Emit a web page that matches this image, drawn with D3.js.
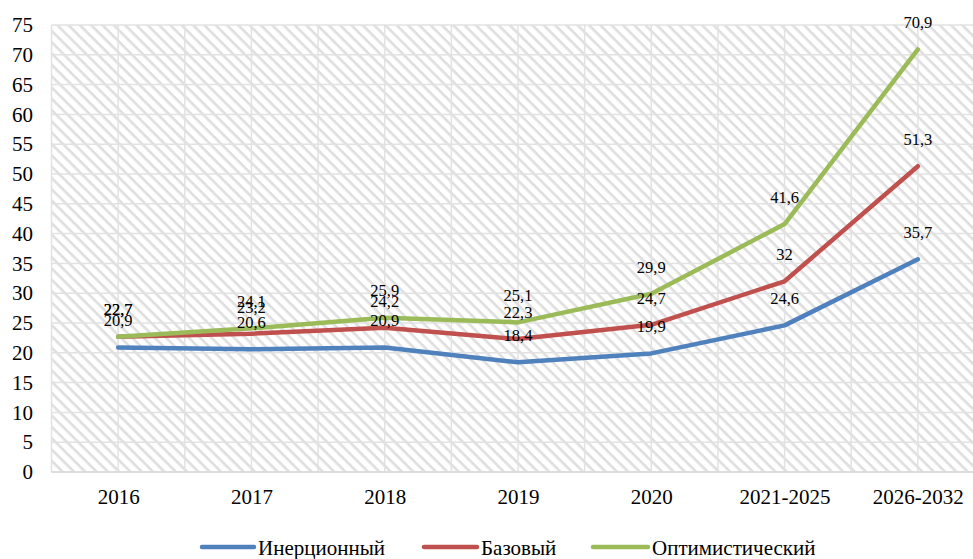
<!DOCTYPE html>
<html>
<head>
<meta charset="utf-8">
<script src="https://cdn.jsdelivr.net/npm/d3@7"></script>
<style>
  html, body { margin: 0; padding: 0; background: #fff; }
  svg text { font-family: "Liberation Serif", "Times New Roman", serif !important; }
</style>
</head>
<body>
<svg id="chart" width="973" height="559"></svg>
<script>
const categories = ["2016", "2017", "2018", "2019", "2020", "2021-2025", "2026-2032"];
const inertial = [20.9, 20.6, 20.9, 18.4, 19.9, 24.6, 35.7];
const base = [22.7, 23.2, 24.2, 22.3, 24.7, 32, 51.3];
const optimistic = [22.7, 24.1, 25.9, 25.1, 29.9, 41.6, 70.9];
const seriesNames = ["Инерционный", "Базовый", "Оптимистический"];
const yTicks = d3.range(0, 80, 5);

const colors = ["#4F81BD", "#C0504D", "#9BBB59"];
const series = [inertial, base, optimistic].map((v, i) => ({ name: seriesNames[i], values: v, color: colors[i] }));

const svg = d3.select("#chart");
const W = 973, H = 559;
const plot = { left: 51.5, right: 984.5, top: 25, bottom: 472 };

const x = d3.scaleBand().domain(categories).range([plot.left, plot.right]).padding(0);
const cx = c => x(c) + x.bandwidth() / 2;
const y = d3.scaleLinear().domain([0, 75]).range([plot.bottom, plot.top]);

// hatch pattern
const defs = svg.append("defs");
const pat = defs.append("pattern")
  .attr("id", "hatch").attr("patternUnits", "userSpaceOnUse")
  .attr("width", 8).attr("height", 8)
  .attr("patternTransform", "rotate(45)");
pat.append("rect").attr("width", 8).attr("height", 8).attr("fill", "#ffffff");
pat.append("rect").attr("x", 0).attr("y", 0).attr("width", 8).attr("height", 2.6).attr("fill", "#dedede");

defs.append("clipPath").attr("id", "clipAll")
  .append("rect").attr("x", 0).attr("y", 0).attr("width", W).attr("height", H);

const g = svg.append("g").attr("clip-path", "url(#clipAll)");

g.append("rect")
  .attr("x", plot.left).attr("y", plot.top)
  .attr("width", plot.right - plot.left).attr("height", plot.bottom - plot.top)
  .attr("fill", "url(#hatch)");

// horizontal gridlines
g.append("g").selectAll("line").data(yTicks).join("line")
  .attr("x1", plot.left).attr("x2", plot.right)
  .attr("y1", d => y(d)).attr("y2", d => y(d))
  .attr("stroke", "#e2e2e2").attr("stroke-width", 1.5);

// vertical gridlines: band boundaries and centers
const vlines = [];
categories.forEach(c => { vlines.push(x(c)); vlines.push(cx(c)); });
vlines.push(plot.right);
g.append("g").selectAll("line").data(vlines).join("line")
  .attr("x1", d => d).attr("x2", d => d)
  .attr("y1", plot.top).attr("y2", plot.bottom)
  .attr("stroke", "#e2e2e2").attr("stroke-width", 1.5);

// axis line at bottom
g.append("line")
  .attr("x1", plot.left).attr("x2", plot.right)
  .attr("y1", plot.bottom).attr("y2", plot.bottom)
  .attr("stroke", "#d9d9d9").attr("stroke-width", 1.5);

// y axis labels
const yAxis = d3.axisLeft(y).tickValues(yTicks).tickSize(0).tickPadding(0);
const ya = svg.append("g").attr("transform", "translate(33,0)").call(yAxis);
ya.select(".domain").remove();
ya.attr("font-size", null).attr("font-family", null);
ya.selectAll("text").attr("font-size", 21).attr("fill", "#000");

// x axis labels
const xAxis = d3.axisBottom(d3.scalePoint().domain(categories).range([cx(categories[0]), cx(categories[categories.length - 1])]))
  .tickSize(0).tickPadding(0);
const xa = svg.append("g").attr("transform", "translate(0,497)").call(xAxis);
xa.select(".domain").remove();
xa.attr("font-size", null).attr("font-family", null);
xa.selectAll("text").attr("font-size", 21).attr("fill", "#000").attr("y", 0).attr("dy", "0.35em");

// lines
const line = d3.line().x((d, i) => cx(categories[i])).y(d => y(d));
g.append("g").selectAll("path").data(series).join("path")
  .attr("d", s => line(s.values))
  .attr("fill", "none").attr("stroke", s => s.color)
  .attr("stroke-width", 4.5).attr("stroke-linejoin", "round").attr("stroke-linecap", "round");

// data labels
const fmt = v => String(v).replace(".", ",");
series.forEach(s => {
  svg.append("g").selectAll("text").data(s.values).join("text")
    .attr("x", (d, i) => cx(categories[i]))
    .attr("y", d => y(d) - 27)
    .attr("dy", "0.35em")
    .attr("text-anchor", "middle")
    .attr("font-size", 16.5).attr("fill", "#000")
    .text(d => fmt(d));
});

// legend
const legendItems = [
  { x: 202, w: 52 },
  { x: 424, w: 53 },
  { x: 593, w: 55 }
];
const lg = svg.append("g");
series.forEach((s, i) => {
  const it = legendItems[i];
  lg.append("line")
    .attr("x1", it.x).attr("x2", it.x + it.w)
    .attr("y1", 547).attr("y2", 547)
    .attr("stroke", s.color).attr("stroke-width", 4.5).attr("stroke-linecap", "round");
  lg.append("text")
    .attr("x", it.x + it.w + 4).attr("y", 548).attr("dy", "0.35em")
    .attr("font-size", 21).attr("fill", "#000")
    .text(s.name);
});
</script>
</body>
</html>
